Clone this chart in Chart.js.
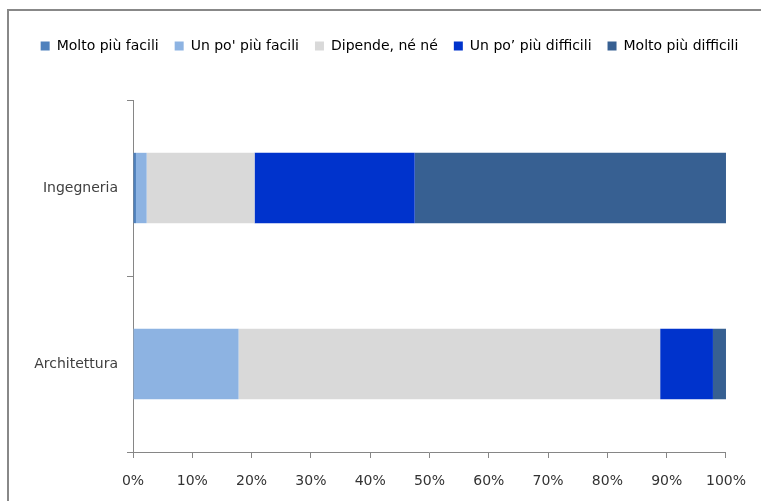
<!DOCTYPE html>
<html>
<head>
<meta charset="utf-8">
<script src="https://cdn.jsdelivr.net/npm/chart.js@4/dist/chart.umd.min.js"></script>
<style>
  html, body { margin: 0; padding: 0; background: #fff; overflow: hidden; }
  canvas { display: block; }
</style>
</head>
<body>
<canvas id="chart" width="761" height="501"></canvas>
<script>
const categories = ['Ingegneria', 'Architettura'];
const seriesNames = ['Molto più facili', "Un po' più facili", 'Dipende, né né', 'Un po’ più difficili', 'Molto più difficili'];
const moltoFacili = [0.5, 0];
const unPoFacili = [1.8, 17.8];
const dipende = [18.2, 71.1];
const unPoDifficili = [27.0, 8.9];
const moltoDifficili = [52.5, 2.2];
const xTicks = [0, 10, 20, 30, 40, 50, 60, 70, 80, 90, 100];
const colors = ['#4F81BD', '#8DB3E2', '#D9D9D9', '#0033CC', '#376092'];

const values = [moltoFacili, unPoFacili, dipende, unPoDifficili, moltoDifficili];

// legend: fixed height so the plot starts where it does in the picture,
// and nudge the row a bit to the right like the original
const legendFit = {
  id: 'legendFit',
  afterInit(chart) {
    const fit = chart.legend.fit;
    chart.legend.fit = function () {
      fit.call(this);
      this.height = 77;
      if (this.lineWidths && this.lineWidths.length === 1) this.lineWidths[0] -= 18;
    };
  }
};

// outer frame of the chart object (only left and top edges are in view)
const frame = {
  id: 'frame',
  beforeDraw(chart) {
    const ctx = chart.ctx;
    ctx.save();
    ctx.strokeStyle = '#888';
    ctx.lineWidth = 2;
    ctx.beginPath();
    ctx.moveTo(8, chart.height);
    ctx.lineTo(8, 10);
    ctx.lineTo(chart.width, 10);
    ctx.stroke();
    ctx.restore();
  }
};

const font = { family: 'DejaVu Sans', size: 14 };

new Chart(document.getElementById('chart'), {
  type: 'bar',
  data: {
    labels: categories,
    datasets: seriesNames.map((name, i) => ({
      label: name,
      data: values[i],
      backgroundColor: colors[i],
      barPercentage: 0.4,
      categoryPercentage: 1
    }))
  },
  options: {
    indexAxis: 'y',
    responsive: false,
    animation: false,
    layout: { padding: { top: 23, left: 0, right: 0, bottom: 0 } },
    plugins: {
      tooltip: { enabled: false },
      legend: {
        position: 'top',
        labels: { boxWidth: 9, boxHeight: 9, padding: 16, color: '#000', font }
      }
    },
    scales: {
      x: {
        stacked: true,
        min: 0,
        max: 100,
        afterBuildTicks: s => { s.ticks = xTicks.map(v => ({ value: v })); },
        ticks: { color: '#333', font, padding: 15, callback: v => v + '%' },
        grid: { drawOnChartArea: false, tickLength: 6, color: '#868686' },
        border: { color: '#868686' },
        afterFit: s => { s.height = 49; }
      },
      y: {
        stacked: true,
        ticks: { color: '#404040', font, padding: 9 },
        grid: { offset: true, drawOnChartArea: false, tickLength: 6, color: '#868686' },
        border: { color: '#868686' },
        afterFit: s => { s.width = 133; }
      },
      y2: {
        type: 'linear',
        position: 'right',
        ticks: { display: false },
        grid: { display: false },
        border: { display: false },
        afterFit: s => { s.width = 34; }
      }
    }
  },
  plugins: [legendFit, frame]
});
</script>
</body>
</html>
